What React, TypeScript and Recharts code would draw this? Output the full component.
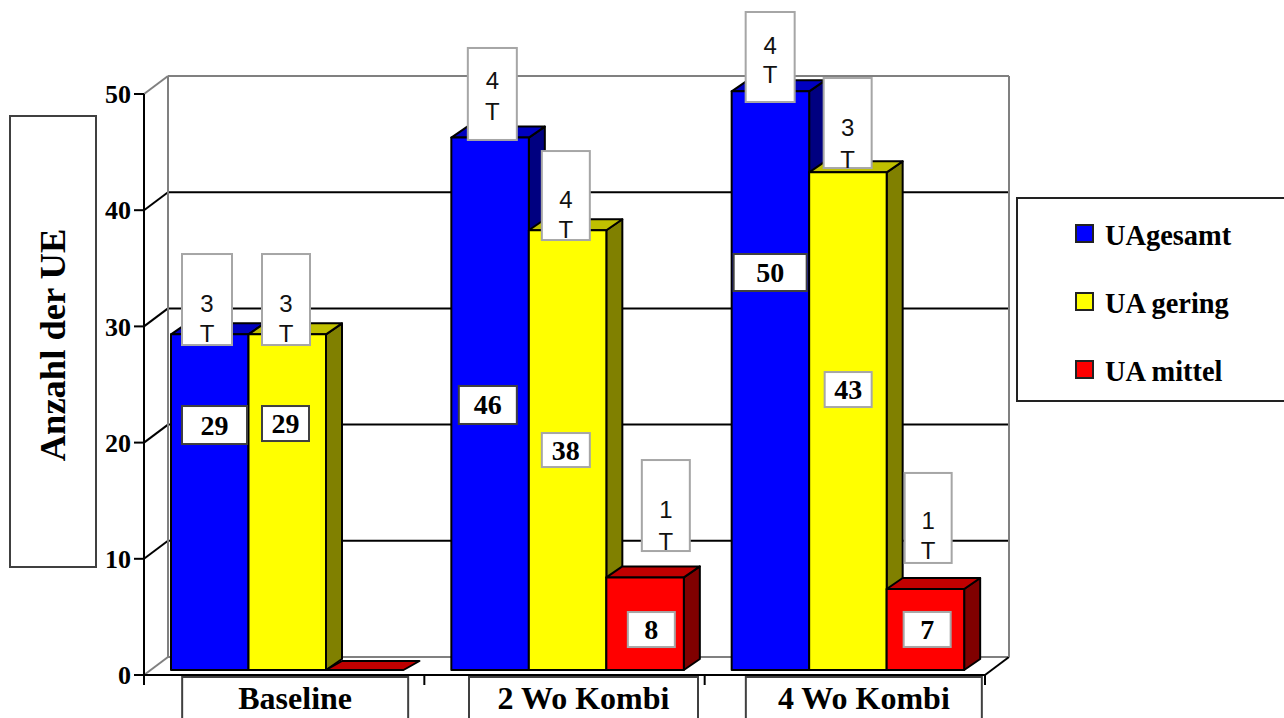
import React from "react";
import {
  BarChart,
  Bar,
  XAxis,
  YAxis,
  CartesianGrid,
  Legend,
  LabelList,
} from "recharts";

const categories = ["Baseline", "2 Wo Kombi", "4 Wo Kombi"];
const uaGesamt = [29, 46, 50];
const uaGering = [29, 38, 43];
const uaMittel = [0, 8, 7];
const yTicks = [0, 10, 20, 30, 40, 50];

// duration notes above the bars, first line per bar, second line shared
const gesamtNotes = ["3", "4", "4"];
const geringNotes = ["3", "4", "3"];
const mittelNotes = ["", "1", "1"];
const noteUnit = "T";

const data = categories.map((name, i) => ({
  name,
  gesamt: uaGesamt[i],
  gering: uaGering[i],
  mittel: uaMittel[i],
}));

const SERIF = "'Liberation Serif', serif";
const SANS = "'Liberation Sans', sans-serif";

const CHART_W = 1284;
const CHART_H = 718;
const PLOT_LEFT = 144;
const PLOT_RIGHT = 985;
const PLOT_TOP = 94;
const PLOT_BOTTOM = 675;

// depth of the wall behind the plot and of the bars themselves
const WALL_DX = 24;
const WALL_DY = 18;
const BAR_DX = 16;
const BAR_DY = 11;
const BAR_SHIFT_X = 3;
const BAR_SHIFT_Y = -5;
// bars stand a little further back than the axis, so they come out slightly shorter
const BAR_PLANE_SCALE = 0.996;

const shades: Record<string, { top: string; side: string }> = {
  "#0000ff": { top: "#0000c0", side: "#000080" },
  "#ffff00": { top: "#c0c000", side: "#808000" },
  "#ff0000": { top: "#c00000", side: "#800000" },
};

const Box3D = (props: any) => {
  const { fill, x, y, width, height } = props;
  const left = x + BAR_SHIFT_X;
  const right = left + width;
  const bottom = y + height + BAR_SHIFT_Y;
  const h = height * BAR_PLANE_SCALE;
  const top = bottom - h;
  const { top: topFill, side } = shades[fill];
  const line = { stroke: "#000", strokeWidth: 2, strokeLinejoin: "round" as const };

  if (height <= 0) {
    // an empty bar only leaves its floor plate
    const flatDy = BAR_DY - 2;
    return (
      <polygon
        points={`${left},${top} ${right},${top} ${right + BAR_DX},${top - flatDy} ${left + BAR_DX},${top - flatDy}`}
        fill={topFill}
        {...line}
      />
    );
  }

  return (
    <g>
      <polygon
        points={`${right},${top} ${right + BAR_DX},${top - BAR_DY} ${right + BAR_DX},${bottom - BAR_DY} ${right},${bottom}`}
        fill={side}
        {...line}
      />
      <polygon
        points={`${left},${top} ${left + BAR_DX},${top - BAR_DY} ${right + BAR_DX},${top - BAR_DY} ${right},${top}`}
        fill={topFill}
        {...line}
      />
      <rect x={left} y={top} width={width} height={h} fill={fill} {...line} />
    </g>
  );
};

type ValueBox = { dx: number; dy: number; w: number; h: number; border: string } | null;
type NoteBox = { dx: number; dy: number; w: number; h: number; line1: number; line2: number } | null;

const DARK = "#404040";
const LIGHT = "#a6a6a6";

// offsets from the top left corner of the bar
const gesamtValueBoxes: ValueBox[] = [
  { dx: 11, dy: 68, w: 65, h: 38, border: DARK },
  { dx: 7.5, dy: 245.5, w: 58, h: 38, border: DARK },
  { dx: 2, dy: 160, w: 73, h: 37, border: DARK },
];
const geringValueBoxes: ValueBox[] = [
  { dx: 13.5, dy: 68, w: 47, h: 35, border: DARK },
  { dx: 13, dy: 199.6, w: 48, h: 34, border: LIGHT },
  { dx: 15.5, dy: 196.7, w: 47, h: 35, border: LIGHT },
];
const mittelValueBoxes: ValueBox[] = [
  null,
  { dx: 21.5, dy: 30, w: 47, h: 35, border: LIGHT },
  { dx: 17, dy: 18.3, w: 47, h: 35, border: LIGHT },
];

const gesamtNoteBoxes: NoteBox[] = [
  { dx: 11, dy: -84, w: 50, h: 91, line1: 49, line2: 79 },
  { dx: 16.5, dy: -92.5, w: 49, h: 92, line1: 33, line2: 64 },
  { dx: 14, dy: -82, w: 49, h: 90, line1: 33, line2: 62 },
];
const geringNoteBoxes: NoteBox[] = [
  { dx: 13.5, dy: -84, w: 48, h: 91, line1: 49, line2: 79 },
  { dx: 13, dy: -82.4, w: 48, h: 89, line1: 48, line2: 78 },
  { dx: 14.5, dy: -97.3, w: 48, h: 90, line1: 49, line2: 81 },
];
const mittelNoteBoxes: NoteBox[] = [
  null,
  { dx: 35.5, dy: -122, w: 48, h: 91, line1: 49, line2: 81 },
  { dx: 18, dy: -120.7, w: 47, h: 90, line1: 48, line2: 78 },
];

const makeBarLabels =
  (valueBoxes: ValueBox[], noteBoxes: NoteBox[], notes: string[]) => (props: any) => {
    const { x, y, index, value } = props;
    const left = x + BAR_SHIFT_X;
    const vb = valueBoxes[index];
    const nb = noteBoxes[index];
    return (
      <g>
        {nb && (
          <g>
            <rect
              x={left + nb.dx}
              y={y + nb.dy}
              width={nb.w}
              height={nb.h}
              fill="#fff"
              stroke={LIGHT}
              strokeWidth={2}
            />
            <text
              x={left + nb.dx + nb.w / 2}
              y={y + nb.dy + nb.line1}
              textAnchor="middle"
              dominantBaseline="central"
              fontFamily={SANS}
              fontSize={24}
              fill="#111"
            >
              {notes[index]}
            </text>
            <text
              x={left + nb.dx + nb.w / 2}
              y={y + nb.dy + nb.line2}
              textAnchor="middle"
              dominantBaseline="central"
              fontFamily={SANS}
              fontSize={24}
              fill="#111"
            >
              {noteUnit}
            </text>
          </g>
        )}
        {vb && (
          <g>
            <rect
              x={left + vb.dx}
              y={y + vb.dy}
              width={vb.w}
              height={vb.h}
              fill="#fff"
              stroke={vb.border}
              strokeWidth={2}
            />
            <text
              x={left + vb.dx + vb.w / 2}
              y={y + vb.dy + vb.h / 2}
              textAnchor="middle"
              dominantBaseline="central"
              fontFamily={SERIF}
              fontWeight="bold"
              fontSize={28}
              fill="#000"
            >
              {value}
            </text>
          </g>
        )}
      </g>
    );
  };

// each horizontal grid line runs along the side wall and then the back wall
const WallLine = (props: any) => {
  const { x1, x2, y1, index } = props;
  const isTop = Math.abs(y1 - PLOT_TOP) < 1;
  const isFloor = Math.abs(y1 - PLOT_BOTTOM) < 1;
  const color = isTop || isFloor ? "#808080" : "#000";
  const backY = y1 - WALL_DY;
  const backLeft = x1 + WALL_DX;
  const backRight = x2 + WALL_DX;
  return (
    <g key={`wall-${index}`}>
      <line x1={x1} y1={y1} x2={backLeft} y2={backY} stroke={color} strokeWidth={2} />
      <line x1={backLeft} y1={backY} x2={backRight} y2={backY} stroke={color} strokeWidth={2} />
      {isTop && (
        <>
          <line
            x1={backLeft}
            y1={backY}
            x2={backLeft}
            y2={PLOT_BOTTOM - WALL_DY}
            stroke="#808080"
            strokeWidth={2}
          />
          <line
            x1={backRight}
            y1={backY}
            x2={backRight}
            y2={PLOT_BOTTOM - WALL_DY}
            stroke="#808080"
            strokeWidth={2}
          />
        </>
      )}
      {isFloor && <line x1={x2} y1={y1} x2={backRight} y2={backY} stroke="#000" strokeWidth={2} />}
    </g>
  );
};

// category boxes, relative to the centre of the band
const categoryBoxes = [
  { from: -102, to: 124 },
  { from: -95.5, to: 133.5 },
  { from: -99, to: 137 },
];

const CategoryTick = (props: any) => {
  const { x, index, payload } = props;
  const half = (PLOT_RIGHT - PLOT_LEFT) / categories.length / 2;
  const box = categoryBoxes[index];
  return (
    <g>
      <line x1={x - half} y1={PLOT_BOTTOM} x2={x - half} y2={PLOT_BOTTOM + 10} stroke="#000" strokeWidth={2} />
      {index === categories.length - 1 && (
        <line x1={x + half} y1={PLOT_BOTTOM} x2={x + half} y2={PLOT_BOTTOM + 10} stroke="#000" strokeWidth={2} />
      )}
      <rect
        x={x + box.from}
        y={PLOT_BOTTOM + 2}
        width={box.to - box.from}
        height={70}
        fill="#fff"
        stroke={DARK}
        strokeWidth={2}
      />
      <text
        x={x + (box.from + box.to) / 2}
        y={PLOT_BOTTOM + 34}
        textAnchor="middle"
        fontFamily={SERIF}
        fontWeight="bold"
        fontSize={32}
        fill="#000"
      >
        {payload.value}
      </text>
    </g>
  );
};

const AxisTitle = () => (
  <g>
    <rect x={10} y={116} width={86} height={451} fill="#fff" stroke={DARK} strokeWidth={2} />
    <text
      x={52}
      y={345}
      transform="rotate(-90 52 345)"
      textAnchor="middle"
      dominantBaseline="central"
      fontFamily={SERIF}
      fontWeight="bold"
      fontSize={36.5}
      fill="#000"
    >
      Anzahl der UE
    </text>
  </g>
);

const LegendPanel = (props: any) => (
  <div
    style={{
      boxSizing: "border-box",
      width: 290,
      height: 205,
      border: "2px solid #222",
      background: "#fff",
      paddingTop: 3,
      paddingLeft: 57,
    }}
  >
    {props.payload.map((entry: any) => (
      <div key={entry.value} style={{ display: "flex", alignItems: "center", height: 68 }}>
        <span
          style={{
            boxSizing: "border-box",
            width: 19,
            height: 19,
            border: "2px solid #222",
            background: entry.color,
            marginRight: 11,
            marginBottom: 5,
          }}
        />
        <span
          style={{
            fontFamily: SERIF,
            fontWeight: "bold",
            fontSize: 28.4,
            color: "#000",
          }}
        >
          {entry.value}
        </span>
      </div>
    ))}
  </div>
);

const App = () => {
  return (
    <div
      style={{
        position: "absolute",
        left: 0,
        top: 0,
        width: CHART_W,
        height: CHART_H,
        overflow: "hidden",
        background: "#fff",
      }}
    >
      <BarChart
        width={CHART_W}
        height={CHART_H}
        data={data}
        barSize={77.5}
        barGap={0}
        margin={{
          top: PLOT_TOP,
          right: CHART_W - PLOT_RIGHT,
          bottom: 0,
          left: PLOT_LEFT - 60,
        }}
      >
        <CartesianGrid horizontal={WallLine} vertical={false} />
        <XAxis
          dataKey="name"
          height={CHART_H - PLOT_BOTTOM}
          interval={0}
          tickLine={false}
          axisLine={{ stroke: "#000", strokeWidth: 2 }}
          tick={CategoryTick}
        />
        <YAxis
          width={60}
          domain={[0, 50]}
          ticks={yTicks}
          tickSize={10}
          tickMargin={3}
          tickLine={{ stroke: "#000", strokeWidth: 2 }}
          axisLine={{ stroke: "#000", strokeWidth: 2 }}
          tick={{ fontFamily: SERIF, fontWeight: "bold", fontSize: 26, fill: "#000" }}
          label={{ content: AxisTitle }}
        />
        <Legend
          layout="vertical"
          align="center"
          verticalAlign="middle"
          itemSorter={null}
          content={LegendPanel}
          wrapperStyle={{ left: 1016, top: 197, width: 290, height: 205 }}
        />
        <Bar dataKey="gesamt" name="UAgesamt" fill="#0000ff" shape={Box3D} isAnimationActive={false}>
          <LabelList
            dataKey="gesamt"
            content={makeBarLabels(gesamtValueBoxes, gesamtNoteBoxes, gesamtNotes)}
          />
        </Bar>
        <Bar dataKey="gering" name="UA gering" fill="#ffff00" shape={Box3D} isAnimationActive={false}>
          <LabelList
            dataKey="gering"
            content={makeBarLabels(geringValueBoxes, geringNoteBoxes, geringNotes)}
          />
        </Bar>
        <Bar dataKey="mittel" name="UA mittel" fill="#ff0000" shape={Box3D} isAnimationActive={false}>
          <LabelList
            dataKey="mittel"
            content={makeBarLabels(mittelValueBoxes, mittelNoteBoxes, mittelNotes)}
          />
        </Bar>
      </BarChart>
    </div>
  );
};

export default App;
